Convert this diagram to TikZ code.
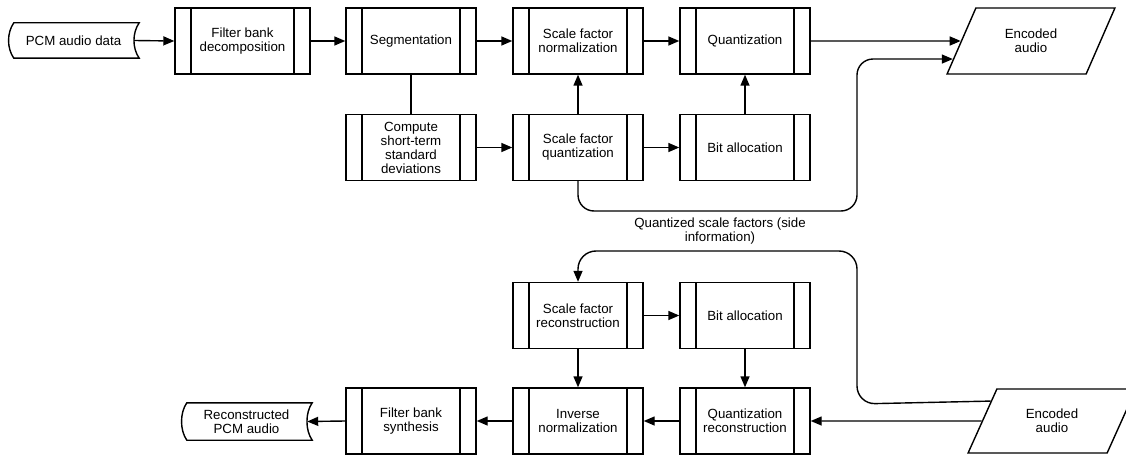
\documentclass[tikz,border=0pt]{standalone}
\usepackage{fontspec}
\setmainfont{Liberation Sans}
\usetikzlibrary{arrows.meta,shapes.geometric}
\begin{document}
\begin{tikzpicture}[x=1pt,y=-1pt,
  every node/.style={font=\fontsize{13.3}{14}\selectfont, align=center},
  proc/.style={draw, line width=1.4pt, minimum width=130pt, minimum height=66pt, inner sep=0pt,
    path picture={\draw[line width=1.4pt] ([xshift=16pt]path picture bounding box.north west) -- ([xshift=16pt]path picture bounding box.south west);
      \draw[line width=1.4pt] ([xshift=-16pt]path picture bounding box.north east) -- ([xshift=-16pt]path picture bounding box.south east);}},
  sd/.style={minimum width=131pt, minimum height=35pt, inner sep=0pt},
  sdline/.style={line width=1.4pt, line join=miter},
  io/.style={draw, line width=1.4pt, trapezium, trapezium left angle=60, trapezium right angle=120, trapezium stretches=true, minimum width=168pt, minimum height=66pt, inner sep=0pt},
  arr/.style={line width=1.4pt, -{Triangle[length=11pt,width=9pt]}},
  ln/.style={line width=1.4pt},
]
\useasboundingbox (0,0) rectangle (1126,457);

% top row
\node[sd] (pcm) at (73.5,40.5) {PCM audio data};
\draw[sdline] ([xshift=6pt]pcm.north west) -- (pcm.north east)
  .. controls +(-7,10) and +(-7,-10) .. (pcm.south east)
  -- ([xshift=6pt]pcm.south west)
  .. controls +(-7,-10) and +(-7,10) .. ([xshift=6pt]pcm.north west) -- cycle;
\node[proc, minimum width=135pt] (fbd) at (242.5,41) {Filter bank\\decomposition};
\node[proc] (seg) at (411,41) {Segmentation};
\node[proc] (sfn) at (578,41) {Scale factor\\normalization};
\node[proc] (quant) at (745,41) {Quantization};
\node[io] (enc) at (1031,41) {Encoded\\audio};

% second row
\node[proc] (comp) at (411,147.5) {Compute\\short-term\\standard\\deviations};
\node[proc] (sfq) at (578,147.5) {Scale factor\\quantization};
\node[proc] (bit) at (745,147.5) {Bit allocation};

\node (side) at (720,231) {Quantized scale factors (side\\information)};

% third row
\node[proc] (sfr) at (578,315.5) {Scale factor\\reconstruction};
\node[proc] (bit2) at (745,315.5) {Bit allocation};

% fourth row
\node[sd, minimum height=37pt] (rec) at (246.5,421.5) {Reconstructed\\PCM audio};
\draw[sdline] ([xshift=6pt]rec.north west) -- (rec.north east)
  .. controls +(-7,10) and +(-7,-10) .. (rec.south east)
  -- ([xshift=6pt]rec.south west)
  .. controls +(-7,-10) and +(-7,10) .. ([xshift=6pt]rec.north west) -- cycle;
\node[proc] (fbs) at (411,421) {Filter bank\\synthesis};
\node[proc] (inv) at (578,421) {Inverse\\normalization};
\node[proc] (qr) at (745,421) {Quantization\\reconstruction};
\node[io, minimum height=64pt] (enc2) at (1052,421) {Encoded\\audio};

% encoder connectors
\draw[arr] ([xshift=-5pt]pcm.east) -- (fbd.west);
\draw[arr] (fbd) -- (seg);
\draw[arr] (seg) -- (sfn);
\draw[arr] (sfn) -- (quant);
\draw[arr] (quant.east) -- (enc.west);
\draw[ln] (seg.south) -- (comp.north);
\draw[arr] (comp) -- (sfq);
\draw[arr] (sfq) -- (sfn);
\draw[arr] (sfq) -- (bit);
\draw[arr] (bit) -- (quant);
\coordinate (lb) at (578,211);
\coordinate (rb) at (857,211);
\coordinate (rt) at (857,59);
\draw[arr, rounded corners=16pt] (sfq.south) -- (lb) -- (rb) -- (rt) -- (enc.193.4);

% decoder connectors
\coordinate (d1) at (857,404);
\coordinate (d2) at (857,251);
\coordinate (d3) at (578,251);
\draw[arr, rounded corners=18pt] (enc2.162.8) -- (d1) -- (d2) -- (d3) -- (sfr.north);
\draw[arr] (enc2.west) -- (qr.east);
\draw[arr] (sfr) -- (bit2);
\draw[arr] (sfr) -- (inv);
\draw[arr] (bit2) -- (qr);
\draw[arr] (qr) -- (inv);
\draw[arr] (inv) -- (fbs);
\draw[arr] (fbs.west) -- ([xshift=-5pt]rec.east);
\end{tikzpicture}
\end{document}
